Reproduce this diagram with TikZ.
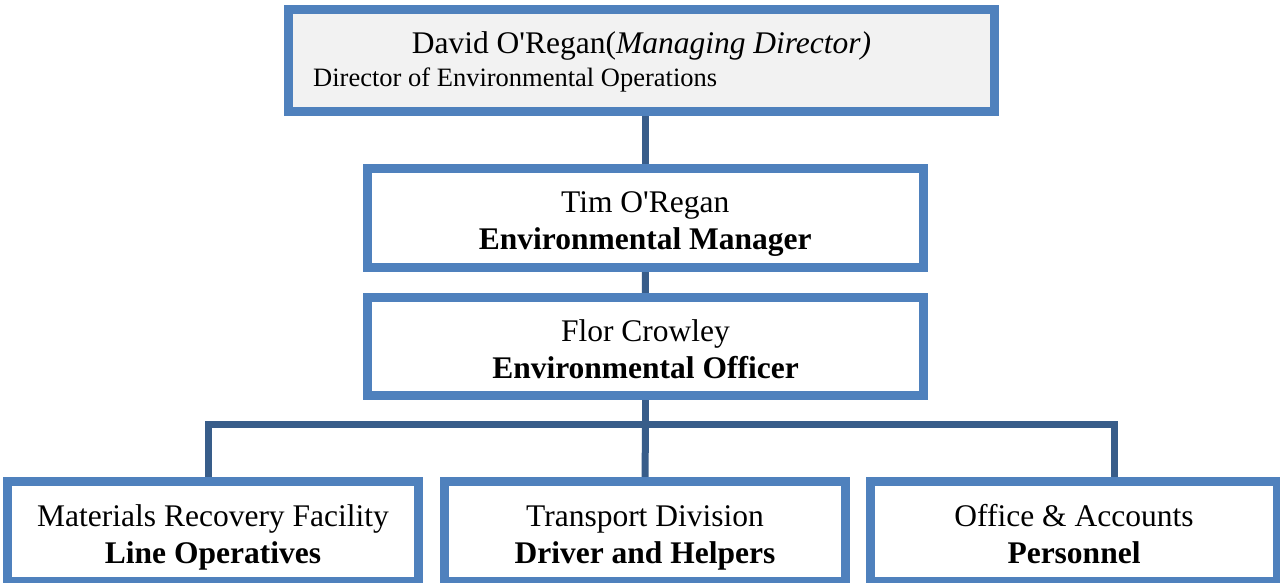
\documentclass[tikz,border=0pt]{standalone}
\usepackage{fontspec}
\setmainfont{Liberation Serif}[Ligatures=TeXOff]
\definecolor{boxline}{HTML}{4F81BD}
\definecolor{linkline}{HTML}{385D8A}
\definecolor{topfill}{HTML}{F2F2F2}
% taller strut for the first line of a two-line box
\newcommand\firstline{\rule{0pt}{37.9pt}}
\begin{document}
\begin{tikzpicture}[x=1pt,y=-1pt,
  orgbox/.style={draw=boxline, line width=6pt, fill=white, rectangle, inner sep=0pt,
    align=center, font=\fontsize{31.5}{37}\selectfont},
  link/.style={draw=linkline, line width=7pt}]
\useasboundingbox (0,0) rectangle (1280,583);

% boxes
\node[orgbox, fill=topfill, minimum width=703pt, minimum height=99pt] (top) at (641.5,60.5) {};
\node[anchor=base, inner sep=0pt, font=\fontsize{31.5}{37}\selectfont] (topname) at (641.5,54)
  {David O'Regan(\textit{Managing Director)}};
\node[anchor=base west, inner sep=0pt, font=\fontsize{26.5}{30}\selectfont] (topsub) at (313,87)
  {Director of Environmental Operations};

\node[orgbox, minimum width=553.5pt, minimum height=96pt] (mgr) at (645.25,218)
  {\firstline Tim O'Regan\\\strut\textbf{Environmental Manager}};
\node[orgbox, minimum width=553pt, minimum height=95pt] (off) at (645.5,346.5)
  {\firstline Flor Crowley\\\strut\textbf{Environmental Officer}};

\node[orgbox, minimum width=408pt, minimum height=97pt] (mrf) at (213,531.5)
  {\firstline Materials Recovery Facility\\\strut\textbf{Line Operatives}};
\node[orgbox, minimum width=398pt, minimum height=97pt] (trn) at (645,531.5)
  {\firstline Transport Division\\\strut\textbf{Driver and Helpers}};
\node[orgbox, minimum width=404pt, minimum height=97pt] (acc) at (1074,531.5)
  {\firstline Office \& Accounts\\\strut\textbf{Personnel}};

% bus junctions
\coordinate (busmid) at (645.5,424);
\coordinate (busl) at (208,424);
\coordinate (busr) at (1114,424);

% connectors
\path[link] (top.south -| mgr.north) -- (mgr.north);
\path[link] (mgr.south) -- (off.north);
\path[link] (off.south) -- (busmid);
\path[link, line join=miter] (busl |- mrf.north) -- (busl) -- (busr) -- (busr |- acc.north);
\path[link] (busmid) -- (trn.north);

% box outlines over connector ends
\foreach \b in {top,mgr,off,mrf,trn,acc}
  \draw[boxline, line width=6pt] (\b.north west) rectangle (\b.south east);
\end{tikzpicture}
\end{document}
